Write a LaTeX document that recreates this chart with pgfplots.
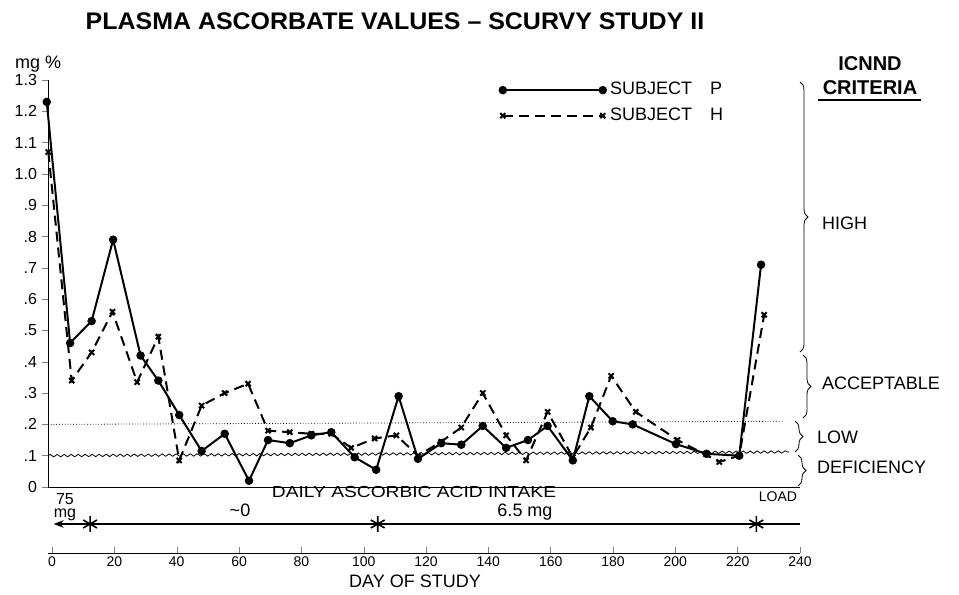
\documentclass[border=0pt]{standalone}
\usepackage{fontspec}
\setmainfont{Liberation Sans}
\usepackage{pgfplots}
\pgfplotsset{compat=1.18}
\usetikzlibrary{decorations.pathmorphing,decorations.pathreplacing,arrows.meta}
\begin{document}
\begin{tikzpicture}
% main plot: days on x, plasma ascorbate (mg %) on y
\begin{axis}[
    at={(24pt,-243.5pt)}, anchor=south west,
    scale only axis, width=376pt, height=203.5pt,
    xmin=-1.3, xmax=240, ymin=0, ymax=1.3,
    axis lines*=left, xtick=\empty,
    ytick={0,0.1,...,1.3},
    yticklabels={0,.1,.2,.3,.4,.5,.6,.7,.8,.9,1.0,1.1,1.2,1.3},
    tick align=outside, major tick length=3pt,
    tick label style={font=\footnotesize},
    yticklabel style={xshift=1pt},
    /pgf/number format/assume math mode=true,
    clip=false,
    legend style={draw=none, fill=none, at={(0.6,1.005)}, anchor=north west,
        font=\small, row sep=1pt, inner sep=0pt},
    legend cell align=left,
    legend image code/.code={\draw[#1] plot coordinates {(0pt,0pt) (50pt,0pt)};},
]
\addplot[black, line width=1pt, mark=*, mark size=1.6pt] coordinates {
(-1.7,1.23) (5.8,0.46) (12.7,0.53) (19.6,0.79) (28.4,0.42) (34.1,0.34)
(40.8,0.23) (48,0.115) (55.4,0.17) (63.2,0.02) (69.3,0.15) (76.3,0.14)
(83.2,0.165) (89.6,0.175) (97.1,0.095) (104,0.055) (111.2,0.29) (117.4,0.09)
(124.9,0.14) (131.3,0.135) (138.2,0.195) (145.7,0.125) (152.7,0.15) (159,0.195)
(167.1,0.085) (172.4,0.29) (179.9,0.21) (186.3,0.2) (200.2,0.137) (210,0.106)
(220.5,0.1) (227.5,0.71)};
\addlegendentry{SUBJECT\quad P}
\addplot[black, line width=1pt, dash pattern=on 5pt off 3pt, mark=x, mark size=1.8pt,
    mark options={solid}] coordinates {
(-1.2,1.07) (6.3,0.34) (12.7,0.43) (19.4,0.56) (27.3,0.335) (34.1,0.48)
(40.8,0.085) (48,0.26) (55.4,0.3) (62.9,0.33) (69.3,0.18) (76.3,0.175)
(83.2,0.17) (89.6,0.17) (96,0.125) (103.5,0.155) (110.5,0.165) (117.4,0.10)
(124.9,0.145) (131.3,0.19) (138.2,0.30) (145.7,0.165) (152.1,0.085) (159,0.24)
(167.1,0.095) (172.9,0.19) (179.4,0.355) (187.3,0.24) (200.7,0.15) (214.1,0.08)
(220.5,0.10) (228.5,0.55)};
\addlegendentry{SUBJECT\quad H}
% criteria limits
\addplot[black, densely dotted, thin, forget plot] coordinates {(-1.3,0.2) (235,0.21)};
\addplot[black, thin, forget plot, decorate,
    decoration={snake, amplitude=0.6pt, segment length=3.5pt}] coordinates {(-1.3,0.1) (236.5,0.112)};
\end{axis}
% intake bar and day axis
\begin{axis}[
    at={(24pt,-276.5pt)}, anchor=south west,
    scale only axis, width=376pt, height=16.5pt,
    xmin=-1.3, xmax=240, ymin=0, ymax=1,
    axis x line*=bottom, axis y line=none,
    xtick={0,20,...,240},
    tick align=inside, major tick length=3pt,
    xticklabel style={font=\scriptsize, yshift=1.5pt},
    /pgf/number format/assume math mode=true,
    clip=false,
]
\addplot[black, thick, -{Stealth[length=5pt]}] coordinates {(12.2,0.88) (0.5,0.88)};
\addplot[black, thick] coordinates {(12.2,0.88) (240,0.88)};
\addplot[black, only marks, mark=asterisk, mark size=4pt, thick] coordinates {(12.2,0.88) (104.5,0.88) (226,0.88)};
\end{axis}
% annotations in pixel units of the reference
\begin{scope}[x=0.5pt, y=-0.5pt]
\path (0,0) rectangle (959,588);
\node[font=\bfseries\large, xscale=1.04] at (395,21) {PLASMA ASCORBATE VALUES -- SCURVY STUDY II};
\node[font=\small, anchor=west] at (8,64) {mg \%};
\node[font=\bfseries] at (870,64) {ICNND};
\node[font=\bfseries] at (870,88) {CRITERIA};
\draw[line width=0.8pt] (818,100) -- (921,100);
\draw[decorate, decoration={brace, amplitude=4pt}] (800,82) -- (800,352);
\draw[decorate, decoration={brace, amplitude=4pt}] (803,355) -- (803,418);
\draw[decorate, decoration={brace, amplitude=4pt}] (795,421) -- (795,452);
\draw[decorate, decoration={brace, amplitude=4pt}] (798,455) -- (798,486);
\node[font=\small, anchor=west] at (815,223) {HIGH};
\node[font=\small, anchor=west] at (815,383) {ACCEPTABLE};
\node[font=\small, anchor=west] at (810,437) {LOW};
\node[font=\small, anchor=west] at (810,467) {DEFICIENCY};
\node[font=\footnotesize, xscale=1.2, inner sep=1pt] at (414,492) {DAILY ASCORBIC ACID INTAKE};
\node[font=\footnotesize, align=center, inner sep=0pt] at (65,507) {75\\[-3pt]mg};
\node[font=\small] at (240,510) {\textasciitilde 0};
\node[font=\small, inner sep=1pt] at (525,512) {6.5 mg};
\node[font=\scriptsize] at (778,497) {LOAD};
\node[font=\small] at (415,581) {DAY OF STUDY};
\end{scope}
\end{tikzpicture}
\end{document}
